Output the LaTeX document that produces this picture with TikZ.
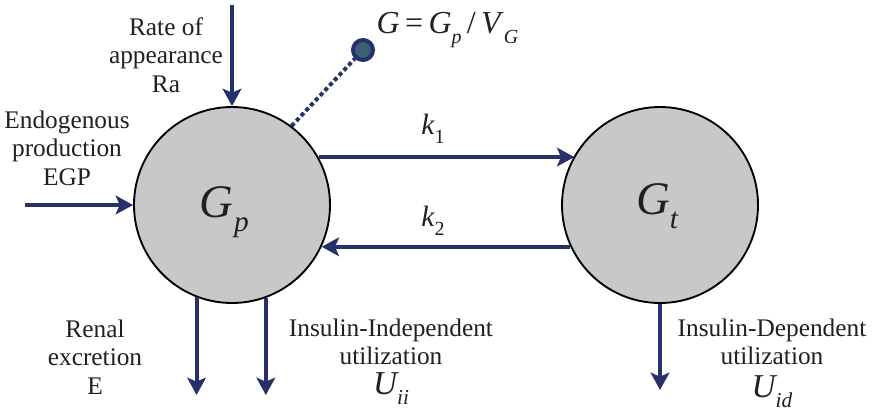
\documentclass[tikz,border=0pt]{standalone}
\usepackage{fontspec}
\setmainfont{Liberation Serif}
\usetikzlibrary{arrows.meta}
\definecolor{navy}{HTML}{27306B}
\definecolor{pool}{HTML}{C8C8C8}
\definecolor{dotfill}{HTML}{3B6072}
\definecolor{ink}{HTML}{231F20}
\tikzset{
  pool/.style={circle, draw=black, line width=1.4pt, fill=pool, minimum size=147pt, inner sep=0pt},
  flow/.style={draw=navy, line width=3pt, -{Stealth[length=13pt,width=14pt,inset=3pt]}},
  lab/.style={font=\fontsize{19}{21.3}\selectfont, align=center, text=ink},
  big/.style={font=\fontsize{35}{35}\selectfont\itshape, text=ink},
  kk/.style={font=\fontsize{22}{22}\selectfont\itshape, text=ink},
}
\newcommand{\sbs}[2]{\raisebox{-0.3em}{\fontsize{#1}{#1}\selectfont #2}}
\begin{document}
\begin{tikzpicture}[x=0.75pt,y=-0.75pt]
\useasboundingbox (0,0) rectangle (874,415);
\node[pool] (Gp) at (232,205) {};
\node[pool] (Gt) at (660,205) {};
\node[big] (Gplab) at (224,212) {G\hspace{1pt}\sbs{22}{p}};
\node[big] (Gtlab) at (657,206) {G\sbs{22}{t}};

\coordinate (raS) at (232,5);
\coordinate (egpS) at (25,207);
\coordinate (renE) at (198,395);
\coordinate (uiiE) at (266,395);
\coordinate (uidE) at (660,390);

\draw[flow] (raS -| Gp.north) -- (Gp.north);
\draw[flow] (egpS |- Gp.west) -- (Gp.west);
\draw[flow] (Gp.29.3) -- (Gp.29.3 -| Gt.150.7);
\draw[flow] (Gt.205.4) -- (Gt.205.4 -| Gp.-25.4);
\draw[flow] (Gp.249.7) -- (Gp.249.7 |- renE);
\draw[flow] (Gp.290.3) -- (Gp.290.3 |- uiiE);
\draw[flow] (Gt.south) -- (Gt.south |- uidE);

\node[circle, draw=navy, line width=3pt, fill=dotfill, minimum size=15pt, inner sep=0pt] (dot) at (363,50) {};
\draw[navy, line width=3pt, dash pattern=on 3pt off 2.2pt] (Gp.53) -- (dot);

\node[lab] (ra) at (166,55) {Rate of\\appearance\\Ra};
\node[lab] (egp) at (67,148) {Endogenous\\production\\EGP};
\node[lab] (ren) at (95,357) {Renal\\excretion\\E};
\node[lab, anchor=north] (uii) at (391,314) {Insulin-Independent\\utilization\\[1pt]{\fontsize{25}{25}\selectfont\itshape U\sbs{16}{ii}}};
\node[lab, anchor=north] (uid) at (772,314) {Insulin-Dependent\\utilization\\[3pt]{\fontsize{25}{25}\selectfont\itshape U\sbs{16}{id}}};
\node[kk] (k1) at (433,129) {k\sbs{15}{\upshape 1}};
\node[kk] (k2) at (433,221) {k\sbs{15}{\upshape 2}};
\node[font=\fontsize{24}{24}\selectfont, anchor=west, text=ink] (eq) at (372,30) {\textit{G}\,=\,\textit{G}\sbs{15}{\itshape p}\,/\,\textit{V}\sbs{15}{\itshape G}};
\end{tikzpicture}
\end{document}
